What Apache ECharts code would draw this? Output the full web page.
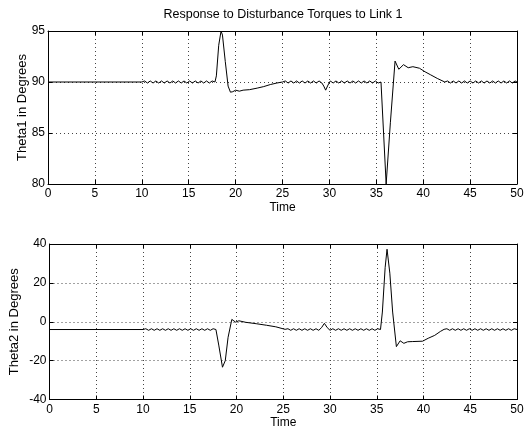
<!DOCTYPE html>
<html>
<head>
<meta charset="utf-8">
<script src="https://cdn.jsdelivr.net/npm/echarts@6/dist/echarts.min.js"></script>
<style>html,body{margin:0;padding:0;background:#fff}#c{width:528px;height:430px}</style>
</head>
<body>
<div id="c"></div>
<script>
var titleText = 'Response to Disturbance Torques to Link 1';
var xTicks = [0,5,10,15,20,25,30,35,40,45,50];
var theta1Ticks = [80,85,90,95];
var theta2Ticks = [-40,-20,0,20,40];

var theta1 = [
[0,90],[10,90],
[10.3,90.1],[10.6,89.9],[10.9,90.1],[11.2,89.9],[11.5,90.1],[11.8,89.9],[12.1,90.1],[12.4,89.9],
[12.7,90.1],[13.0,89.9],[13.3,90.1],[13.6,89.9],[13.9,90.1],[14.2,89.9],[14.5,90.1],[14.8,89.9],
[15.1,90.1],[15.4,89.9],[15.7,90.1],[16.0,89.9],[16.3,90.1],[16.6,89.9],[16.9,90.1],[17.2,89.9],
[17.5,90.1],[17.8,90.0],
[17.95,90.6],[18.2,93.6],[18.45,95.0],[18.6,94.6],[18.9,92.0],[19.2,89.6],[19.45,89.0],[19.7,89.05],
[20.0,89.2],[20.4,89.1],[20.8,89.2],[21.5,89.25],[22.3,89.4],[23.0,89.55],[23.7,89.75],[24.4,89.9],[25.0,90.0],
[25.3,90.1],[25.6,89.9],[25.9,90.1],[26.2,89.9],[26.5,90.1],[26.8,89.9],[27.1,90.1],[27.4,89.9],
[27.7,90.1],[28.0,89.9],[28.3,90.1],[28.6,89.9],[28.9,90.1],[29.2,89.9],
[29.4,89.6],[29.6,89.2],[29.85,89.7],[30.1,90.1],
[30.4,89.9],[30.7,90.1],[31.0,89.9],[31.3,90.1],[31.6,89.9],[31.9,90.1],[32.2,89.9],[32.5,90.1],
[32.8,89.9],[33.1,90.1],[33.4,89.9],[33.7,90.1],[34.0,89.9],[34.3,90.1],[34.6,89.9],[34.9,90.1],
[35.2,89.9],[35.5,90.0],
[36.05,80.0],[36.5,86.0],[37.0,92.05],[37.4,91.25],[37.9,91.7],[38.4,91.4],[38.9,91.5],[39.6,91.35],
[40.2,91.0],[40.8,90.7],[41.5,90.35],[42.3,90.0],
[42.6,90.1],[42.9,89.9],[43.2,90.1],[43.5,89.9],[43.8,90.1],[44.1,89.9],[44.4,90.1],[44.7,89.9],
[45.0,90.1],[45.3,89.9],[45.6,90.1],[45.9,89.9],[46.2,90.1],[46.5,89.9],[46.8,90.1],[47.1,89.9],
[47.4,90.1],[47.7,89.9],[48.0,90.1],[48.3,89.9],[48.6,90.1],[48.9,89.9],[49.2,90.1],[49.5,89.9],
[49.8,90.1],[50,90.0]
];

var theta2 = [
[0,-4],[10,-4],
[10.3,-3.6],[10.6,-4.4],[10.9,-3.6],[11.2,-4.4],[11.5,-3.6],[11.8,-4.4],[12.1,-3.6],[12.4,-4.4],
[12.7,-3.6],[13.0,-4.4],[13.3,-3.6],[13.6,-4.4],[13.9,-3.6],[14.2,-4.4],[14.5,-3.6],[14.8,-4.4],
[15.1,-3.6],[15.4,-4.4],[15.7,-3.6],[16.0,-4.4],[16.3,-3.6],[16.6,-4.4],[16.9,-3.6],[17.2,-4.4],
[17.5,-3.6],[17.8,-4.0],
[18.1,-12.0],[18.5,-23.4],[18.8,-20.0],[19.1,-8.0],[19.5,1.2],[19.9,-0.2],[20.25,0.5],
[21.0,-0.3],[22.1,-1.0],[23.2,-1.8],[24.2,-2.6],[25.2,-3.9],
[25.5,-3.6],[25.8,-4.4],[26.1,-3.6],[26.4,-4.4],[26.7,-3.6],[27.0,-4.4],[27.3,-3.6],[27.6,-4.4],
[27.9,-3.6],[28.2,-4.4],[28.5,-3.6],[28.8,-4.4],[29.1,-3.0],[29.4,-0.8],[29.7,-3.0],[30.0,-4.4],
[30.3,-3.6],[30.6,-4.4],[30.9,-3.6],[31.2,-4.4],[31.5,-3.6],[31.8,-4.4],[32.1,-3.6],[32.4,-4.4],
[32.7,-3.6],[33.0,-4.4],[33.3,-3.6],[33.6,-4.4],[33.9,-3.6],[34.2,-4.4],[34.5,-3.6],[34.8,-4.4],
[35.1,-3.6],[35.4,-4.0],
[35.6,5.0],[35.9,28.0],[36.1,37.3],[36.4,25.0],[36.7,5.0],[37.1,-12.8],[37.5,-9.8],[37.9,-11.1],
[38.3,-10.3],[38.8,-10.2],[39.9,-10.0],[40.5,-8.5],[41.2,-7.0],[41.8,-5.0],[42.2,-3.9],
[42.5,-3.6],[42.8,-4.4],[43.1,-3.6],[43.4,-4.4],[43.7,-3.6],[44.0,-4.4],[44.3,-3.6],[44.6,-4.4],
[44.9,-3.6],[45.2,-4.4],[45.5,-3.6],[45.8,-4.4],[46.1,-3.6],[46.4,-4.4],[46.7,-3.6],[47.0,-4.4],
[47.3,-3.6],[47.6,-4.4],[47.9,-3.6],[48.2,-4.4],[48.5,-3.6],[48.8,-4.4],[49.1,-3.6],[49.4,-4.4],
[49.7,-3.6],[50,-4.0]
];

var FONT = 'Liberation Sans';
var chart = echarts.init(document.getElementById('c'), null, {renderer:'canvas'});

function mkX(gridIndex, pos, show){
  return {
    type:'value', gridIndex:gridIndex, position:pos,
    min:xTicks[0], max:xTicks[xTicks.length-1], interval:5,
    name: show ? 'Time' : '', nameLocation:'middle', nameGap:17.5, nameMoveOverlap:false,
    nameTextStyle:{color:'#000', fontFamily:FONT, fontSize:12},
    axisLine:{show:true, onZero:false, lineStyle:{color:'#000', width:1}},
    axisTick:{show:true, inside:true, length:4, lineStyle:{color:'#000'}},
    axisLabel:{show:show, color:'#000', fontFamily:FONT, fontSize:12, margin:4},
    splitLine:{show:show, lineStyle:{color:'#444', type:[1,3], width:1}}
  };
}
function mkY(gridIndex, pos, show, ticks, name, gap){
  return {
    type:'value', gridIndex:gridIndex, position:pos,
    min:ticks[0], max:ticks[ticks.length-1], interval:ticks[1]-ticks[0],
    name: show ? name : '', nameLocation:'middle', nameGap:gap, nameMoveOverlap:false,
    nameTextStyle:{color:'#000', fontFamily:FONT, fontSize:13},
    axisLine:{show:true, onZero:false, lineStyle:{color:'#000', width:1}},
    axisTick:{show:true, inside:true, length:4, lineStyle:{color:'#000'}},
    axisLabel:{show:show, color:'#000', fontFamily:FONT, fontSize:12, margin:3},
    splitLine:{show:show, lineStyle:{color:'#444', type:[1,3], width:1}}
  };
}

chart.setOption({
  animation:false,
  backgroundColor:'#fff',
  graphic:[{type:'text', x:283, y:15, style:{text:titleText, fill:'#000',
    font:'12.5px "Liberation Sans"', textAlign:'center', textVerticalAlign:'middle'}}],
  grid:[
    {left:48, right:11, top:31, height:153},
    {left:48, right:11, top:244, height:158}
  ],
  xAxis:[mkX(0,'bottom',true), mkX(0,'top',false), mkX(1,'bottom',true), mkX(1,'top',false)],
  yAxis:[mkY(0,'left',true,theta1Ticks,'Theta1 in Degrees',19.5), mkY(0,'right',false,theta1Ticks,'',20),
         mkY(1,'left',true,theta2Ticks,'Theta2 in Degrees',28.5), mkY(1,'right',false,theta2Ticks,'',20)],
  series:[
    {type:'line', xAxisIndex:0, yAxisIndex:0, data:theta1, showSymbol:false, symbol:'none',
     lineStyle:{color:'#000', width:1}, clip:true},
    {type:'line', xAxisIndex:2, yAxisIndex:2, data:theta2, showSymbol:false, symbol:'none',
     lineStyle:{color:'#000', width:1}, clip:true}
  ]
});
</script>
</body>
</html>
